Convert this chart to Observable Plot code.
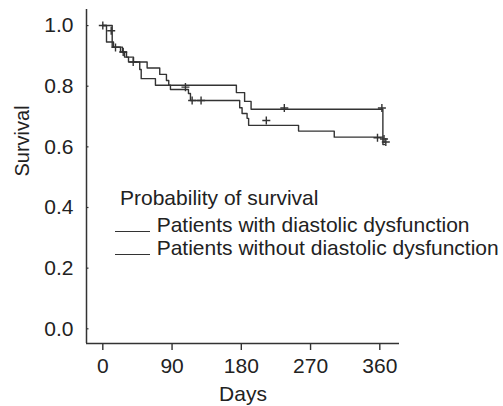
<!DOCTYPE html>
<html><head><meta charset="utf-8">
<script src="https://cdn.jsdelivr.net/npm/d3@7"></script>
<script src="https://cdn.jsdelivr.net/npm/@observablehq/plot@0.6"></script>
<style>
body{margin:0;background:#fff}
#wrap{position:relative;width:503px;height:406px;font-family:"Liberation Sans",Arial,sans-serif;color:#222}
.lg{position:absolute;font-size:21px;line-height:21px;white-space:nowrap}
.sw{position:absolute;height:1.4px;background:#333;width:35px}
</style></head><body><div id="wrap"></div>
<script>
const xTicks = [0, 90, 180, 270, 360];
const yTicks = [0, 0.2, 0.4, 0.6, 0.8, 1.0];
const xDomain = [-21.2, 385.6];
const yDomain = [-0.0485, 1.053];
const xLabel = "Days";
const yLabel = "Survival";
const legendTitle = "Probability of survival";
const seriesNames = ["Patients with diastolic dysfunction", "Patients without diastolic dysfunction"];

// step curve: patients with diastolic dysfunction
const withDays = [0, 4.8, 13.9, 23.0, 28.2, 33.4, 48.0, 49.9, 68.4, 87.9, 111.3, 113.9, 177.9, 181.0, 187.5, 189.5, 254.4, 300.8, 364];
const withSurv = [1.0, 0.946, 0.929, 0.913, 0.896, 0.880, 0.855, 0.825, 0.803, 0.789, 0.776, 0.753, 0.729, 0.710, 0.694, 0.671, 0.652, 0.632, 0.632];
// step curve: patients without diastolic dysfunction
const withoutDays = [0, 12.2, 25.6, 30.8, 39.9, 57.6, 74.0, 82.7, 85.7, 173.6, 184.3, 192.7, 364, 366];
const withoutSurv = [1.0, 0.929, 0.913, 0.896, 0.880, 0.860, 0.839, 0.819, 0.803, 0.779, 0.750, 0.724, 0.608, 0.608];
// censored observations
const censorDays = [0, 10.9, 16.5, 26.5, 39.5, 107.4, 116.1, 127.7, 212.5, 235.9, 357.0, 362.7, 365.5, 367.8];
const censorSurv = [1.0, 0.983, 0.928, 0.913, 0.880, 0.797, 0.753, 0.753, 0.687, 0.728, 0.630, 0.728, 0.626, 0.616];

const curves = [
  ...withDays.map((d, i) => ({day: d, surv: withSurv[i], group: seriesNames[0]})),
  ...withoutDays.map((d, i) => ({day: d, surv: withoutSurv[i], group: seriesNames[1]}))
];
const censors = censorDays.map((d, i) => ({day: d, surv: censorSurv[i]}));

const W = 503, H = 406, mL = 86, mR = 104, mT = 9, mB = 63;
const ink = "#333";

const chart = Plot.plot({
  width: W, height: H,
  marginLeft: mL, marginRight: mR, marginTop: mT, marginBottom: mB,
  style: {fontFamily: '"Liberation Sans", Arial, sans-serif', fontSize: "21px", color: "#222", background: "white", overflow: "visible"},
  x: {domain: xDomain},
  y: {domain: yDomain},
  marks: [
    Plot.axisX({ticks: xTicks, tickSize: 7, tickPadding: 8, label: null, stroke: ink, strokeWidth: 1.4}),
    Plot.axisY({ticks: yTicks, tickSize: 0, tickPadding: 13, label: null, tickFormat: d3.format(".1f")}),
    Plot.tickY(yTicks, {y: d => d, insetRight: W - mL - mR - 2.5, stroke: ink, strokeWidth: 1.2}),
    Plot.ruleX([xDomain[0]], {stroke: ink, strokeWidth: 1.5}),
    Plot.ruleY([yDomain[0]], {stroke: ink, strokeWidth: 1.5}),
    Plot.line(curves, {x: "day", y: "surv", z: "group", curve: "step-after", stroke: ink, strokeWidth: 1.4}),
    Plot.dot(censors, {x: "day", y: "surv", symbol: "plus", r: 2.7, stroke: ink, strokeWidth: 1.4}),
    Plot.text([xLabel], {frameAnchor: "bottom", dy: 50.3, lineAnchor: "middle", fill: "#222"}),
    Plot.text([yLabel], {frameAnchor: "left", dx: -64.4, rotate: -90, lineAnchor: "middle", fontSize: 20, fill: "#222"})
  ]
});

const wrap = document.getElementById("wrap");
wrap.appendChild(chart);

function addText(txt, left, top) {
  const d = document.createElement("div");
  d.className = "lg"; d.textContent = txt;
  d.style.left = left + "px"; d.style.top = top + "px";
  wrap.appendChild(d);
}
function addSwatch(left, top) {
  const d = document.createElement("div");
  d.className = "sw"; d.style.left = left + "px"; d.style.top = top + "px";
  wrap.appendChild(d);
}
addText(legendTitle, 120, 186.5);
addSwatch(115, 231.0);
addText(seriesNames[0], 156.7, 213.9);
addSwatch(115, 253.6);
addText(seriesNames[1], 156.7, 236.5);
</script></body></html>
